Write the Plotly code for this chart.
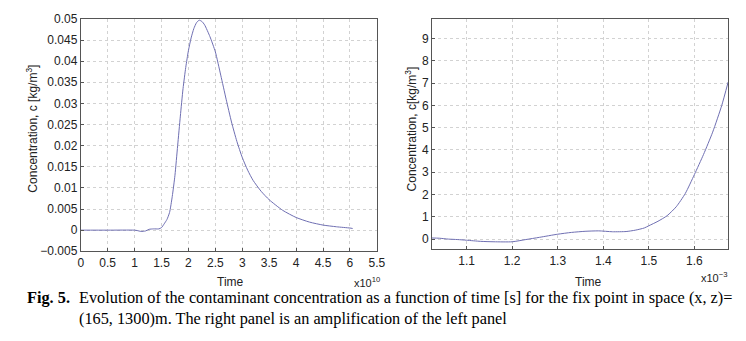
import plotly.graph_objects as go

# Left panel (time in units of 1e10 s)
left_time = [0, 0.5, 1.0, 1.05, 1.12, 1.2, 1.27, 1.35, 1.45, 1.5, 1.55, 1.6, 1.65, 1.7, 1.75,
             1.8, 1.85, 1.9, 1.95, 2.0, 2.05, 2.1, 2.15, 2.2, 2.25, 2.3, 2.4, 2.5, 2.6, 2.7,
             2.8, 2.9, 3.0, 3.1, 3.2, 3.35, 3.5, 3.75, 4.0, 4.25, 4.5, 4.75, 5.0, 5.05]
left_conc = [0, 0, 0, -0.0001, -0.0003, -0.0002, 0.0002, 0.0003, 0.0003, 0.0006, 0.0015, 0.0025,
             0.0042, 0.008, 0.013, 0.02, 0.027, 0.0335, 0.0385, 0.0425, 0.0455, 0.0477, 0.0491,
             0.0497, 0.0494, 0.0486, 0.0458, 0.0422, 0.0367, 0.031, 0.0256, 0.021, 0.0172,
             0.0142, 0.0118, 0.0092, 0.0072, 0.0047, 0.003, 0.0019, 0.0012, 0.0008, 0.0005, 0.0004]

# Right panel (time in units of 1e-3)
right_time = [1.024, 1.04, 1.06, 1.08, 1.1, 1.13, 1.16, 1.2, 1.23, 1.26, 1.3, 1.33, 1.36, 1.39,
              1.42, 1.45, 1.47, 1.49, 1.5, 1.52, 1.54, 1.56, 1.58, 1.6, 1.62, 1.64, 1.66, 1.674]
right_conc = [0.05, 0.04, 0.0, -0.02, -0.05, -0.1, -0.12, -0.12, -0.02, 0.08, 0.22, 0.3, 0.35,
              0.37, 0.33, 0.34, 0.4, 0.5, 0.6, 0.8, 1.05, 1.45, 2.05, 2.9, 3.8, 4.8, 6.0, 7.05]

left_xticks = [0, 0.5, 1, 1.5, 2, 2.5, 3, 3.5, 4, 4.5, 5, 5.5]
left_xlabels = ["0", "0.5", "1", "1.5", "2", "2.5", "3", "3.5", "4", "4.5", "6", "5.5"]
left_yticks = [-0.005, 0, 0.005, 0.01, 0.015, 0.02, 0.025, 0.03, 0.035, 0.04, 0.045, 0.05]
left_ylabels = ["\u22120.005", "0", "0.005", "0.01", "0.015", "0.02", "0.025", "0.03",
                "0.035", "0.04", "0.045", "0.05"]
right_xticks = [1.1, 1.2, 1.3, 1.4, 1.5, 1.6]
right_yticks = [0, 1, 2, 3, 4, 5, 6, 7, 8, 9]

W, H = 746, 341
LINE = "#6f6fb2"
FONT = dict(family="Liberation Sans, Arial, sans-serif", size=12, color="#222222")

fig = go.Figure()
fig.add_trace(go.Scatter(x=left_time, y=left_conc, mode="lines",
                         line=dict(color=LINE, width=1, shape="spline", smoothing=0.6),
                         xaxis="x", yaxis="y", showlegend=False))
fig.add_trace(go.Scatter(x=right_time, y=right_conc, mode="lines",
                         line=dict(color=LINE, width=1, shape="spline", smoothing=0.6),
                         xaxis="x2", yaxis="y2", showlegend=False))

ax_common = dict(showline=True, mirror=True, linecolor="#555555", linewidth=1,
                 showgrid=True, gridcolor="#d2d2d2", griddash="dot", gridwidth=1,
                 ticks="inside", ticklen=3, tickcolor="#555555", zeroline=False,
                 tickfont=FONT)


def px_x(p):
    return p / W


def px_y(p):
    return 1 - p / H


fig.update_layout(
    width=W, height=H, margin=dict(l=0, r=0, t=0, b=0),
    paper_bgcolor="white", plot_bgcolor="white",
    xaxis=dict(domain=[px_x(79), px_x(380)], range=[0, 5.5], tickvals=left_xticks,
               ticktext=left_xlabels, anchor="y", **ax_common),
    yaxis=dict(domain=[px_y(255), px_y(13)], range=[-0.005, 0.0501], tickvals=left_yticks,
               ticktext=left_ylabels, anchor="x", **ax_common),
    xaxis2=dict(domain=[px_x(436), px_x(737)], range=[1.024, 1.674], tickvals=right_xticks,
                anchor="y2", **ax_common),
    yaxis2=dict(domain=[px_y(253), px_y(13)], range=[-0.46, 9.9], tickvals=right_yticks,
                anchor="x2", **ax_common),
)

ann = []
ann.append(dict(text="Time", x=px_x(231), y=px_y(287), xref="paper", yref="paper",
                showarrow=False, font=FONT, xanchor="center", yanchor="middle"))
ann.append(dict(text="Time", x=px_x(595), y=px_y(287), xref="paper", yref="paper",
                showarrow=False, font=FONT, xanchor="center", yanchor="middle"))
ann.append(dict(text="Concentration, c [kg/m<sup>3</sup>]", x=px_x(30), y=px_y(128),
                xref="paper", yref="paper", showarrow=False, font=FONT, textangle=-90,
                xanchor="center", yanchor="middle"))
ann.append(dict(text="Concentration, c[kg/m<sup>3</sup>]", x=px_x(415), y=px_y(128),
                xref="paper", yref="paper", showarrow=False, font=FONT, textangle=-90,
                xanchor="center", yanchor="middle"))
ann.append(dict(text="x10<sup>10</sup>", x=px_x(370), y=px_y(287), xref="paper", yref="paper",
                showarrow=False, font=dict(FONT, size=11), xanchor="center", yanchor="middle"))
ann.append(dict(text="x10<sup>\u22123</sup>", x=px_x(723), y=px_y(282), xref="paper", yref="paper",
                showarrow=False, font=dict(FONT, size=11), xanchor="center", yanchor="middle"))

SERIF = dict(family="Liberation Serif, Times New Roman, serif", size=16.3, color="#000000")
ann.append(dict(text="<b>Fig. 5.</b>", x=px_x(22), y=px_y(303), xref="paper", yref="paper",
                showarrow=False, font=SERIF, xanchor="left", yanchor="middle"))
ann.append(dict(text="Evolution of the contaminant concentration as a function of time [s] for the fix point in space (x, z)="
                     "<br>(165, 1300)m. The right panel is an amplification of the left panel",
                x=px_x(75), y=px_y(314), xref="paper", yref="paper", align="left",
                showarrow=False, font=SERIF, xanchor="left", yanchor="middle"))
fig.update_layout(annotations=ann)

fig.write_html("out.html", config={"displayModeBar": False},
               post_script="document.body.style.margin='0';document.body.style.padding='0';")
